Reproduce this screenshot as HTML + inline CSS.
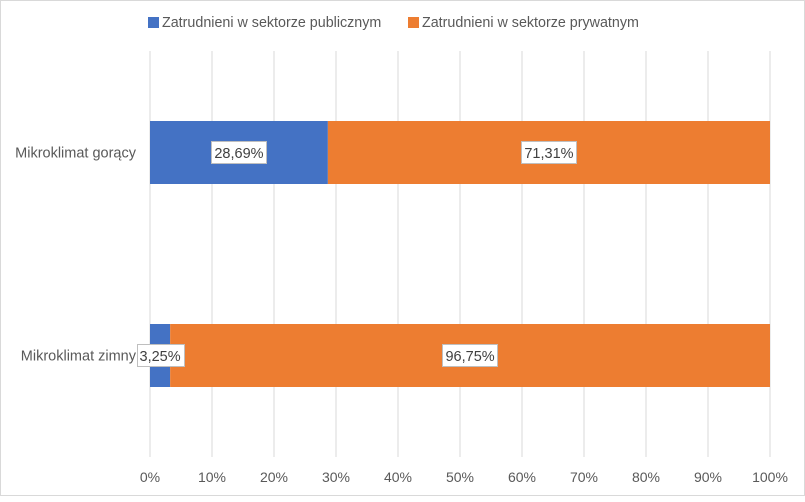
<!DOCTYPE html>
<html><head><meta charset="utf-8"><style>
body{margin:0;background:#fff;font-family:"Liberation Sans",sans-serif}
svg text{font-family:"Liberation Sans",sans-serif;fill:#595959}
</style></head><body>
<svg width="805" height="497">
<rect x="0.5" y="0.5" width="804" height="495" fill="#fff" stroke="#d9d9d9"/>
<g id="grid"></g><g id="bars"></g><g id="labels"></g>
<g>
<rect x="148" y="17" width="11" height="11" fill="#4472c4"/>
<text x="162" y="27" font-size="14.3">Zatrudnieni w sektorze  publicznym</text>
<rect x="408" y="17" width="11" height="11" fill="#ed7d31"/>
<text x="422" y="27" font-size="14.3">Zatrudnieni w sektorze  prywatnym</text>
</g>
</svg>
<script>
const categories=["Mikroklimat gorący","Mikroklimat zimny"];
const publicVals=[28.69,3.25];
const privateVals=[71.31,96.75];
const ticks=[0,10,20,30,40,50,60,70,80,90,100];
const NS="http://www.w3.org/2000/svg";
const x=v=>150+v*6.2;
const yTop=[121,324],bh=63;
function mk(t,a,p){const e=document.createElementNS(NS,t);for(const k in a)e.setAttribute(k,a[k]);document.getElementById(p).appendChild(e);return e;}
ticks.forEach(t=>{
 const l=mk('line',{x1:x(t),x2:x(t),y1:51,y2:457,stroke:'#d9d9d9'},'grid');
 
 
 const tx=mk('text',{x:x(t),y:482,'font-size':14,'text-anchor':'middle'},'labels');
 tx.textContent=t+'%';
 
 
});
const fmt=v=>v.toFixed(2).replace('.',',')+'%';
categories.forEach((c,i)=>{
 const y=yTop[i];
 const cl=mk('text',{x:136,y:y+bh/2+5,'font-size':14.5,'text-anchor':'end'},'labels');
 cl.textContent=c;
 
 
 const b1=mk('rect',{x:x(0),y:y,width:x(publicVals[i])-x(0),height:bh,fill:'#4472c4'},'bars');
 
 
 const b2=mk('rect',{x:x(publicVals[i]),y:y,width:x(publicVals[i]+privateVals[i])-x(publicVals[i]),height:bh,fill:'#ed7d31'},'bars');
 
 
 [[0,publicVals[i]],[publicVals[i],privateVals[i]]].forEach(([s,v])=>{
  const cx=x(s+v/2);
  const r=mk('rect',{y:y+20.5,height:22,fill:'#fff',stroke:'#bfbfbf'},'labels');
  
  
  const t=mk('text',{x:cx,y:y+37,'font-size':14.5,'text-anchor':'middle',style:'fill:#404040'},'labels');
  t.textContent=fmt(v);
  
  
  const w=t.getComputedTextLength()+6;
  r.setAttribute('x',Math.round(cx-w/2)+0.5);
  r.setAttribute('width',Math.round(w));
 });
});
</script>
</body></html>
